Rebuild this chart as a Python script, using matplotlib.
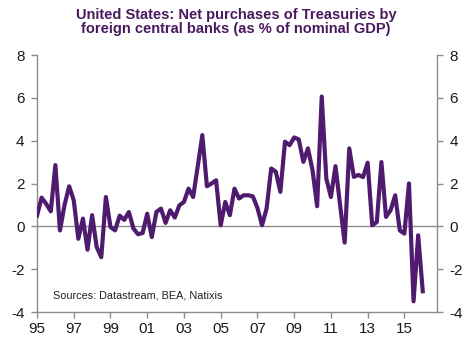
import matplotlib.pyplot as plt
import numpy as np

plt.rcParams['font.family'] = ['Liberation Sans', 'DejaVu Sans']

# Quarterly net purchases, % of nominal GDP, 1995Q1 .. 2016Q1
start_year = 1995
net_purchases = [
    0.50, 1.34, 1.05, 0.70,      # 1995
    2.86, -0.19, 1.00, 1.87,     # 1996
    1.22, -0.58, 0.36, -1.09,    # 1997
    0.52, -0.97, -1.44, 1.37,    # 1998
    -0.03, -0.19, 0.50, 0.30,    # 1999
    0.67, -0.10, -0.37, -0.31,   # 2000
    0.59, -0.50, 0.67, 0.83,     # 2001
    0.16, 0.75, 0.41, 0.98,      # 2002
    1.14, 1.76, 1.37, 2.80,      # 2003
    4.26, 1.87, 2.00, 2.15,      # 2004
    0.05, 1.14, 0.52, 1.76,      # 2005
    1.30, 1.45, 1.45, 1.40,      # 2006
    0.86, 0.05, 0.83, 2.70,      # 2007
    2.55, 1.61, 3.95, 3.79,      # 2008
    4.15, 4.06, 3.01, 3.64,      # 2009
    2.62, 0.94, 6.06, 2.23,      # 2010
    1.37, 2.81, 1.00, -0.76,     # 2011
    3.64, 2.31, 2.40, 2.30,      # 2012
    2.97, 0.05, 0.20, 3.00,      # 2013
    0.44, 0.75, 1.45, -0.19,     # 2014
    -0.34, 2.00, -3.50, -0.42,   # 2015
    -3.03,                       # 2016
]
year_ticks = list(range(1995, 2016, 2))
year_labels = ["%02d" % (y % 100) for y in year_ticks]
y_ticks = [-4, -2, 0, 2, 4, 6, 8]

t = start_year + np.arange(len(net_purchases)) / 4.0

fig = plt.figure(figsize=(4.72, 3.41), dpi=100)
ax = fig.add_axes([0.0784, 0.085, 0.8476, 0.7537])

grey = '#8c8c8c'
purple = '#4e1b6e'

ax.axhline(0, color=grey, lw=1.0, zorder=1)
ax.plot(t, net_purchases, color=purple, lw=3.0, solid_joinstyle='round', zorder=3)

ax.set_xlim(1995, 2016.78)
ax.set_ylim(-4, 8)
ax.set_xticks(year_ticks)
ax.set_xticklabels(year_labels)
ax.set_yticks(y_ticks)
ax.set_yticklabels([str(v) for v in y_ticks])

for side in ['left', 'right', 'bottom']:
    ax.spines[side].set_color(grey)
    ax.spines[side].set_linewidth(1.0)
ax.spines['top'].set_visible(False)

ax.tick_params(axis='y', which='both', left=True, right=True, labelleft=True,
               labelright=True, direction='out', length=4, width=1, color=grey,
               labelsize=11, pad=5, labelcolor='#1a1a1a')
ax.tick_params(axis='x', direction='out', length=4, width=1, color=grey,
               labelsize=11, pad=3, labelcolor='#1a1a1a')

fig.text(0.5, 0.978, "United States: Net purchases of Treasuries by\nforeign central banks (as % of nominal GDP)",
         ha='center', va='top', fontsize=10.5, fontweight='bold', color='#4a1a5e',
         linespacing=1.05)
ax.text(1995.85, -3.25, "Sources: Datastream, BEA, Natixis", fontsize=7.8,
        color='#222222', va='center', ha='left')

fig.savefig('out.png', dpi=100)
